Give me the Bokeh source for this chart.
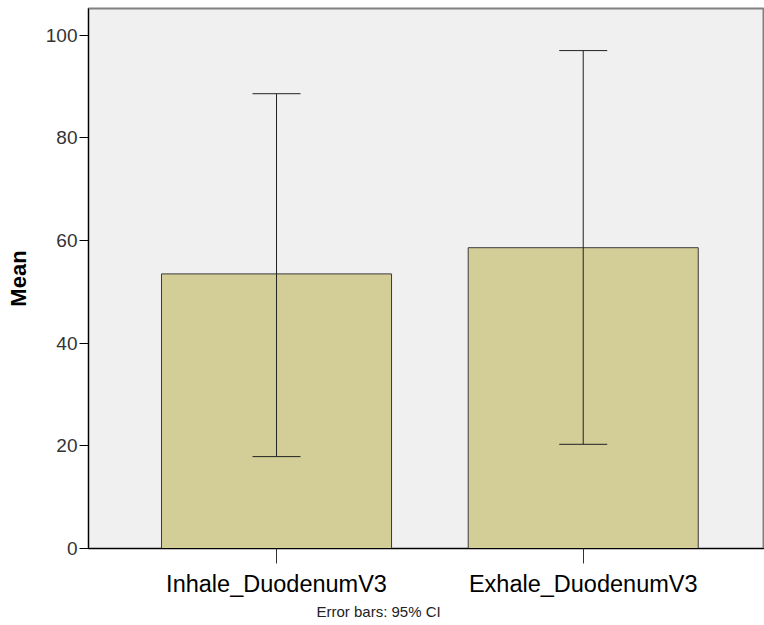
from bokeh.plotting import figure
from bokeh.models import ColumnDataSource, Range1d, FixedTicker, Whisker, Title, TeeHead
from bokeh.embed import file_html
from bokeh.resources import INLINE

categories = ["Inhale_DuodenumV3", "Exhale_DuodenumV3"]
means = [53.5, 58.6]
ci_low = [17.9, 20.3]
ci_high = [88.6, 97.0]
y_ticks = [0, 20, 40, 60, 80, 100]

xpos = [i + 1 for i in range(len(categories))]
src = ColumnDataSource(dict(x=xpos, top=means, lower=ci_low, upper=ci_high))

p = figure(width=764, height=625, output_backend="svg", toolbar_location=None,
           x_range=Range1d(0.387, 2.591), y_range=Range1d(0, 105.2),
           min_border_left=88, min_border_right=0, min_border_top=8, min_border_bottom=0)
p.background_fill_color = "#F0F0F0"
p.border_fill_color = "white"
p.outline_line_color = "#808080"
p.outline_line_width = 2
p.xgrid.visible = False
p.ygrid.visible = False

p.vbar(x="x", top="top", bottom=0, width=0.75, source=src,
       fill_color="#D3CE98", line_color="#3A3A3A", line_width=1)

p.add_layout(Whisker(base="x", lower="lower", upper="upper", source=src,
                     line_color="#222222", line_width=1, level="overlay",
                     upper_head=TeeHead(size=48, line_color="#222222", line_width=1),
                     lower_head=TeeHead(size=48, line_color="#222222", line_width=1)))

# y axis
ya = p.yaxis[0]
ya.ticker = FixedTicker(ticks=y_ticks)
ya.minor_tick_line_color = None
ya.major_tick_out = 9
ya.major_tick_in = 0
ya.major_label_standoff = 2
ya.major_label_text_font = "Liberation Sans"
ya.major_label_text_font_size = "19px"
ya.major_label_text_color = "#333333"
ya.axis_line_color = "black"
ya.major_tick_line_color = "black"
ya.axis_label = "Mean"
ya.axis_label_text_font = "Liberation Sans"
ya.axis_label_text_font_style = "bold"
ya.axis_label_text_font_size = "22px"
ya.axis_label_text_color = "black"
ya.axis_label_standoff = 12

# x axis
xa = p.xaxis[0]
xa.ticker = FixedTicker(ticks=xpos)
xa.major_label_overrides = {x: c for x, c in zip(xpos, categories)}
xa.minor_tick_line_color = None
xa.major_tick_out = 15
xa.major_tick_in = 0
xa.major_label_standoff = 7
xa.major_label_text_font = "Liberation Sans"
xa.major_label_text_font_size = "23.5px"
xa.major_label_text_color = "black"
xa.axis_line_color = "black"
xa.major_tick_line_color = "#333333"

p.add_layout(Title(text="Error bars: 95% CI", align="left", offset=228,
                   text_font="Liberation Sans", text_font_size="15px",
                   text_font_style="normal", text_color="#222222",
                   standoff=3), "below")
p.add_layout(Title(text=" ", text_font_size="1px", standoff=1), "below")

open("out.html", "w").write(file_html(p, INLINE))
